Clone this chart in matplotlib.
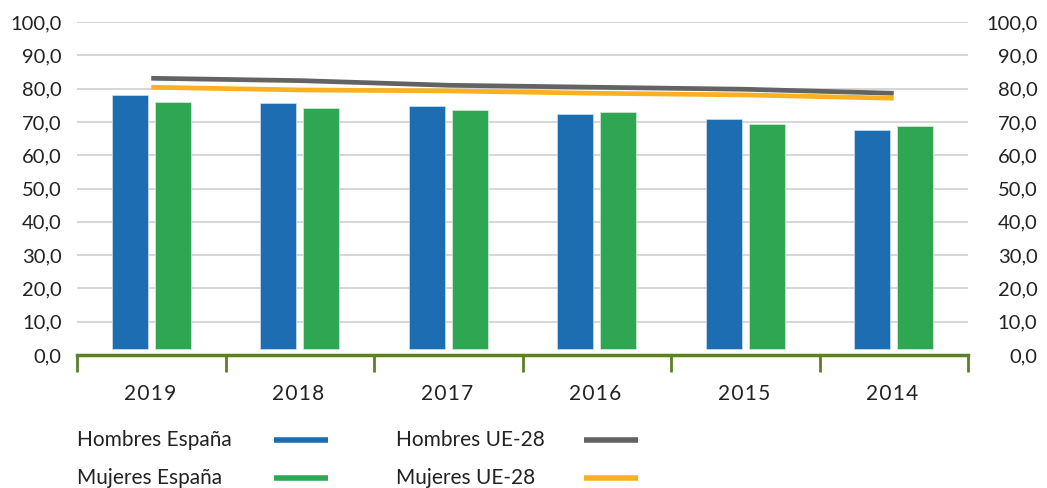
import numpy as np
import matplotlib
matplotlib.use("Agg")
import matplotlib.pyplot as plt
from matplotlib.lines import Line2D

# ---------------------------------------------------------------
# data
# ---------------------------------------------------------------
years = ['2019', '2018', '2017', '2016', '2015', '2014']
hombres_es = [78.2, 75.6, 74.9, 72.3, 70.9, 67.6]
mujeres_es = [76.1, 74.2, 73.5, 72.9, 69.4, 68.9]
hombres_ue = [83.1, 82.4, 81.0, 80.4, 79.8, 78.6]
mujeres_ue = [80.4, 79.6, 79.3, 78.6, 78.1, 77.1]

c_blue = '#1d6db3'
c_green = '#2ea652'
c_grey = '#636363'
c_orange = '#f9b121'
c_axis = '#5b7f2b'

plt.rcParams['font.family'] = ['Lato', 'DejaVu Sans']

fig = plt.figure(figsize=(10.47, 4.88), dpi=100)
ax = fig.add_axes([77 / 1047, 1 - 355 / 488, 891 / 1047, 333 / 488])

x = np.arange(len(years))
w = 0.244
base = 1.8  # bars float a little above the axis in the original
ax.bar(x - 0.145, np.array(hombres_es) - base, w, bottom=base, color=c_blue,
       edgecolor='#cfe0f0', linewidth=0.5, zorder=3)
ax.bar(x + 0.145, np.array(mujeres_es) - base, w, bottom=base, color=c_green,
       edgecolor='#d5eedc', linewidth=0.5, zorder=3)
ax.plot(x, hombres_ue, color=c_grey, lw=3.4, zorder=4, solid_capstyle='butt')
ax.plot(x, mujeres_ue, color=c_orange, lw=3.4, zorder=4, solid_capstyle='butt')

ax.set_xlim(-0.5, len(years) - 0.5)
ax.set_ylim(0, 100)
yt = np.arange(0, 101, 10)
ax.set_yticks(yt)
ax.set_yticklabels([f'{v:.1f}'.replace('.', ',') for v in yt], fontsize=14.5, color='#222222')
ax.tick_params(axis='y', length=0, pad=11)
ax.grid(axis='y', color='#d0d0d0', lw=1.2, zorder=0)

# category boundaries get the ticks, labels go in the middle (letter spaced)
spaced = ['\u200a'.join(y) + '\u200a\u200a' for y in years]
ax.set_xticks(np.arange(-0.5, len(years)), minor=False)
ax.set_xticklabels([])
ax.set_xticks(x, minor=True)
ax.set_xticklabels(spaced, minor=True, fontsize=15, color='#222222')
ax.tick_params(axis='x', which='major', length=12, width=2, color=c_axis, direction='out')
ax.tick_params(axis='x', which='minor', length=0, pad=21)

for s in ['left', 'right', 'top']:
    ax.spines[s].set_visible(False)
ax.spines['bottom'].set_color(c_axis)
ax.spines['bottom'].set_linewidth(2.5)
ax.spines['bottom'].set_zorder(5)

ax2 = ax.twinx()
ax2.set_ylim(0, 100)
ax2.set_yticks(yt)
ax2.set_yticklabels([f'{v:.1f}'.replace('.', ',') for v in yt], fontsize=14.5,
                    color='#222222', ha='right')
ax2.tick_params(axis='y', length=0, pad=50)
for s in ax2.spines.values():
    s.set_visible(False)

# legend laid out by hand like the original
legend_items = [
    ('Hombres España', c_blue, 77, 274, 440),
    ('Mujeres España', c_green, 77, 274, 478),
    ('Hombres UE-28', c_grey, 396, 584, 440),
    ('Mujeres UE-28', c_orange, 396, 584, 478),
]
for label, col, tx, hx, yy in legend_items:
    fig.text(tx / 1047, 1 - yy / 488, label, fontsize=15, color='#222222', va='center')
    fig.add_artist(Line2D([hx / 1047, (hx + 54) / 1047], [1 - yy / 488, 1 - yy / 488],
                          color=col, lw=4, solid_capstyle='butt'))

fig.savefig('out.png', dpi=100)
